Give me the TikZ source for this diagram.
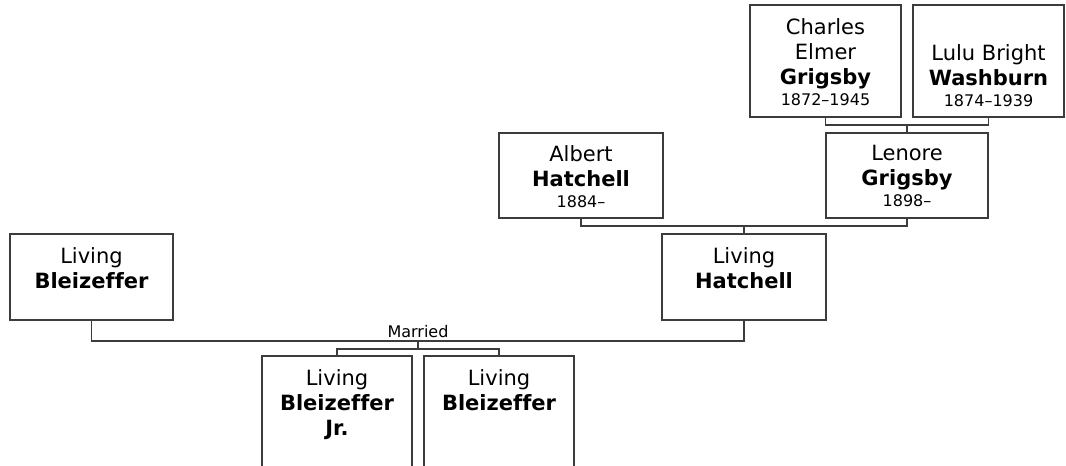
\documentclass[tikz,border=0pt]{standalone}
\usepackage{fontspec}
\setmainfont[Ligatures=NoCommon]{DejaVu Sans}
\usetikzlibrary{fit}
\definecolor{lc}{HTML}{3C3C3C}
\newcommand{\nm}{\fontsize{15.75}{18.75}\selectfont}
\newcommand{\yrs}{\fontsize{12}{14}\selectfont}
\tikzset{
  pbox/.style={draw=lc, line width=1.1pt, inner sep=0pt, fill=white},
  txt/.style={anchor=north, align=center, inner sep=0pt, font=\nm},
  conn/.style={draw=lc, line width=1.1pt},
  small/.style={font=\yrs, inner sep=0pt}
}
\begin{document}
\begin{tikzpicture}[x=0.75pt,y=-0.75pt]
\clip (0,0) rectangle (1066,466);
\fill[white] (0,0) rectangle (1066,466);
% boxes
\node[pbox, fit={(750,5) (901,117)}] (cs) {};
\node[pbox, fit={(913,5) (1064,117)}] (lw) {};
\node[pbox, fit={(826,133) (988,218)}] (lg) {};
\node[pbox, fit={(499,133) (663,218)}] (ah) {};
\node[pbox, fit={(662,234) (826,320)}] (lh) {};
\node[pbox, fit={(10,234) (173,320)}] (lb) {};
\node[pbox, fit={(262,356) (412,520)}] (c1) {};
\node[pbox, fit={(424,356) (574,520)}] (c2) {};
% texts
\node[txt] (cs-t) at (825.5,18) {Charles\\Elmer\\\textbf{Grigsby}\\[-3pt]{\yrs 1872–1945}};
\node[txt] (lw-t) at (988.5,44) {Lulu Bright\\\textbf{Washburn}\\[-3pt]{\yrs 1874–1939}};
\node[txt] (ah-t) at (581,145) {Albert\\\textbf{Hatchell}\\[-3pt]{\yrs 1884–}};
\node[txt] (lg-t) at (907,145) {Lenore\\\textbf{Grigsby}\\[-3pt]{\yrs 1898–}};
\node[txt] (lh-t) at (744,247) {Living\\\textbf{Hatchell}};
\node[txt] (lb-t) at (91.5,247) {Living\\\textbf{Bleizeffer}};
\node[txt] (c1-t) at (337,369) {Living\\\textbf{Bleizeffer}\\\textbf{Jr.}};
\node[txt] (c2-t) at (499,369) {Living\\\textbf{Bleizeffer}};
% junctions
\coordinate (j1) at (907,125);
\coordinate (j2) at (744,226);
\coordinate (j3) at (418,341);
\coordinate (j4) at (418,349);
% connectors
\draw[conn] (cs.south) |- (j1) -| (lw.south);
\draw[conn] (j1) -- (lg.north);
\draw[conn] (ah.south) |- (j2) -| (lg.south);
\draw[conn] (j2) -- (lh.north);
\draw[conn] (lb.south) |- (j3) -| (lh.south);
\draw[conn] (j3) -- (j4);
\draw[conn] (c1.north) |- (j4) -| (c2.north);
\node[small, anchor=base] (ml) at (418,337) {Married};
\end{tikzpicture}
\end{document}
